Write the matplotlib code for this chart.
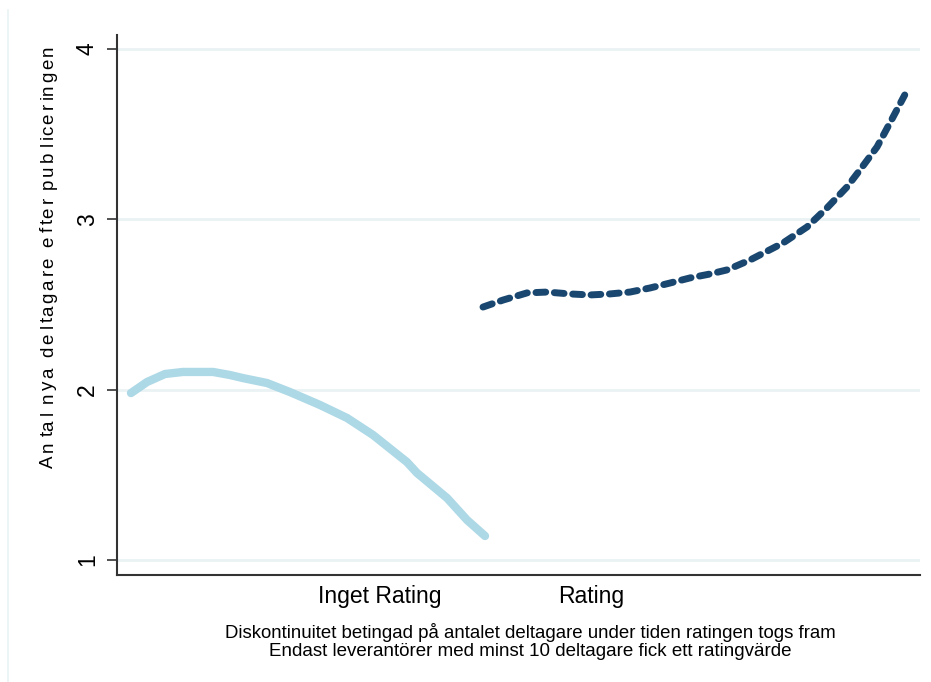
import matplotlib
matplotlib.use("Agg")
import matplotlib.pyplot as plt
from matplotlib.lines import Line2D
from matplotlib.font_manager import FontProperties
from matplotlib.textpath import TextToPath

plt.rcParams['font.family'] = ['Liberation Sans', 'DejaVu Sans']

# lowess fit below the rating threshold
x_inget = [1.74, 3.74, 5.98, 8.22, 11.96, 14.07, 15.69, 18.68, 21.54, 25.28,
           28.64, 31.88, 36.11, 37.36, 41.10, 43.59, 45.83]
y_inget = [1.980, 2.045, 2.092, 2.104, 2.104, 2.086, 2.068, 2.039, 1.986, 1.910,
           1.834, 1.734, 1.575, 1.511, 1.364, 1.235, 1.141]

# lowess fit above the threshold
x_rating = [45.58, 48.07, 51.06, 53.55, 56.41, 58.90, 61.39, 63.89, 66.38, 68.87,
            71.36, 73.85, 75.97, 78.83, 82.94, 85.93, 88.42, 90.91, 92.53, 94.65,
            96.26, 98.10]
y_rating = [2.485, 2.526, 2.568, 2.573, 2.562, 2.556, 2.562, 2.573, 2.597, 2.626,
            2.656, 2.679, 2.703, 2.761, 2.861, 2.955, 3.067, 3.190, 3.290, 3.425,
            3.566, 3.730]

y_ticks = [1, 2, 3, 4]
x_tick_pos = [32.75, 59.03]
x_tick_labels = ['Inget Rating', 'Rating']

ylabel = 'Antal nya deltagare efter publiceringen'
note1 = 'Diskontinuitet betingad på antalet deltagare under tiden ratingen togs fram'
note2 = 'Endast leverantörer med minst 10 deltagare fick ett ratingvärde'

W, H = 931, 682
fig = plt.figure(figsize=(W / 100, H / 100), dpi=100)
ax = fig.add_axes([117 / W, 107 / H, 803 / W, 540 / H])

ax.plot(x_inget, y_inget, color='#add8e6', lw=6, solid_capstyle='round',
        solid_joinstyle='round')
ax.plot(x_rating, y_rating, color='#1a476f', lw=5, dashes=(1.4, 1.25),
        dash_capstyle='round', dash_joinstyle='round')

ax.set_xlim(0, 100)
ax.set_ylim(0.912, 4.082)

ax.set_yticks(y_ticks)
ax.set_yticklabels([str(t) for t in y_ticks], rotation=90, va='center', fontsize=16.5)
ax.tick_params(axis='y', length=7, width=1.2, color='#333333', pad=6)
ax.grid(axis='y', color='#eaf2f3', lw=2)
ax.set_axisbelow(True)

ax.set_xticks(x_tick_pos)
ax.set_xticklabels(x_tick_labels, fontsize=16.5)
ax.tick_params(axis='x', length=0, pad=7)

for side in ['top', 'right']:
    ax.spines[side].set_visible(False)
for side in ['left', 'bottom']:
    ax.spines[side].set_color('#333333')
    ax.spines[side].set_linewidth(1.5)


def spaced_vertical_text(s, x_px, y_bottom_px, y_top_px, size):
    # lay out characters one by one, bottom to top, spread over the given span
    prop = FontProperties(family='Liberation Sans', size=size)
    t2p = TextToPath()
    widths = [t2p.get_text_width_height_descent(c, prop, ismath=False)[0] * 100 / 72
              for c in s]
    extra = ((y_bottom_px - y_top_px) - sum(widths)) / (len(s) - 1)
    pos = y_bottom_px
    for c, w in zip(s, widths):
        fig.text(x_px / W, 1 - pos / H, c, rotation=90, ha='center', va='bottom',
                 fontproperties=prop, rotation_mode='anchor')
        pos -= w + extra


spaced_vertical_text(ylabel, 57, 462, 40, 13.5)

fig.text(530 / W, 1 - 633 / H, note1, ha='center', va='center', fontsize=13.4)
fig.text(530 / W, 1 - 652 / H, note2, ha='center', va='center', fontsize=13.5)

fig.add_artist(Line2D([8 / W, 8 / W], [0, 1 - 10 / H],
                      transform=fig.transFigure, color='#eaf2f3', lw=1.2))

fig.savefig('out.png', dpi=100)
